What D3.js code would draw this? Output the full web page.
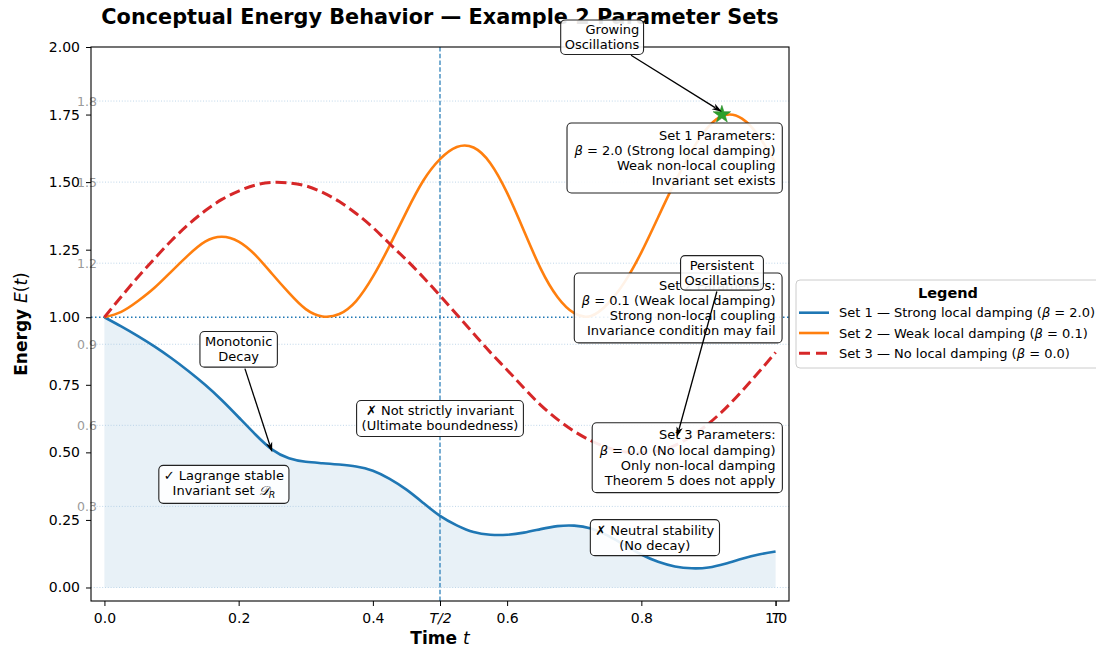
<!DOCTYPE html>
<html>
<head>
<meta charset="utf-8">
<script src="https://cdn.jsdelivr.net/npm/d3@7"></script>
<style>
html,body{margin:0;padding:0;background:#fff;}
svg text{font-family:"DejaVu Sans","Liberation Sans",sans-serif;}
</style>
</head>
<body>
<svg id="chart" width="1096" height="651"></svg>
<script>
// ---------------- DATA ----------------
const times = [0, 0.025, 0.05, 0.075, 0.1, 0.125, 0.15, 0.175, 0.2, 0.225, 0.25, 0.275, 0.3, 0.325, 0.35, 0.375, 0.4, 0.425, 0.45, 0.475, 0.5, 0.525, 0.55, 0.575, 0.6, 0.625, 0.65, 0.675, 0.7, 0.725, 0.75, 0.775, 0.8, 0.825, 0.85, 0.875, 0.9, 0.925, 0.95, 0.975, 1.0];
const set1Energy = [1.000, 0.966, 0.930, 0.891, 0.848, 0.801, 0.750, 0.693, 0.630, 0.566, 0.510, 0.478, 0.465, 0.460, 0.455, 0.448, 0.432, 0.402, 0.362, 0.313, 0.265, 0.230, 0.205, 0.195, 0.195, 0.203, 0.216, 0.227, 0.229, 0.218, 0.192, 0.157, 0.122, 0.095, 0.078, 0.071, 0.074, 0.088, 0.106, 0.122, 0.133];
const set2Energy = [1.000, 1.020, 1.060, 1.110, 1.170, 1.230, 1.280, 1.298, 1.280, 1.230, 1.160, 1.090, 1.030, 1.003, 1.012, 1.060, 1.150, 1.265, 1.390, 1.505, 1.585, 1.630, 1.628, 1.570, 1.460, 1.320, 1.180, 1.075, 1.015, 1.005, 1.050, 1.130, 1.240, 1.370, 1.500, 1.615, 1.705, 1.748, 1.735, 1.670, 1.570];
const set3Energy = [1.000, 1.076, 1.149, 1.218, 1.284, 1.343, 1.394, 1.436, 1.467, 1.489, 1.499, 1.497, 1.486, 1.462, 1.428, 1.384, 1.332, 1.272, 1.212, 1.148, 1.080, 1.010, 0.940, 0.870, 0.805, 0.738, 0.675, 0.622, 0.578, 0.543, 0.517, 0.502, 0.498, 0.505, 0.526, 0.560, 0.606, 0.662, 0.727, 0.797, 0.870];
const seriesLabels = ["Set 1 — Strong local damping (β = 2.0)", "Set 2 — Weak local damping (β = 0.1)", "Set 3 — No local damping (β = 0.0)"];
const xTicks = [0, 0.2, 0.4, 0.6, 0.8, 1.0];
const xSpecialTicks = [0.5, 1.0];
const xSpecialLabels = ["T/2", "T"];
const yTicks = [0, 0.25, 0.5, 0.75, 1.0, 1.25, 1.5, 1.75, 2.0];
const gridLevels = [0, 0.3, 0.6, 0.9, 1.2, 1.5, 1.8];
const gridLabels = ["", "0.3", "0.6", "0.9", "1.2", "1.5", "1.8"];
const referenceEnergy = 1.0;
const halfPeriod = 0.5;
const peakTime = 0.92, peakEnergy = 1.75;

// ---------------- SETUP ----------------
const svg = d3.select("#chart");
const x = d3.scaleLinear().domain([-0.02, 1.02]).range([91, 789]);
const y = d3.scaleLinear().domain([-0.05, 2.0]).range([601, 47]);
const [X0, X1] = x.range();
const [Y0, Y1] = y.range(); // Y0 bottom, Y1 top
const colors = ["#1f77b4", "#ff7f0e", "#d62728"];
const series = [set1Energy, set2Energy, set3Energy].map((vals) =>
  times.map((t, j) => ({t, e: vals[j]})));
const curve = d3.curveNatural;

// grid (dotted light lines with grey labels)
const gridG = svg.append("g");
gridG.selectAll("line").data(gridLevels).join("line")
  .attr("x1", X0).attr("x2", X1)
  .attr("y1", d => y(d)).attr("y2", d => y(d))
  .attr("stroke", "#aecbe3").attr("stroke-width", 0.8).attr("stroke-dasharray", "1,1.8");

// fill under set 1
svg.append("path").datum(series[0])
  .attr("d", d3.area().x(d => x(d.t)).y0(y(0)).y1(d => y(d.e)).curve(curve))
  .attr("fill", "#1f77b4").attr("fill-opacity", 0.1);

gridG.raise();

// reference lines
svg.append("line").attr("x1", X0).attr("x2", X1).attr("y1", y(referenceEnergy)).attr("y2", y(referenceEnergy))
  .attr("stroke", "#1f77b4").attr("stroke-width", 1.5).attr("stroke-dasharray", "1.5,2.5");
svg.append("line").attr("x1", x(halfPeriod)).attr("x2", x(halfPeriod)).attr("y1", Y0).attr("y2", Y1)
  .attr("stroke", "#1f77b4").attr("stroke-width", 1.2).attr("stroke-dasharray", "4.5,2.2");

// series lines
const lineGen = d3.line().x(d => x(d.t)).y(d => y(d.e)).curve(curve);
series.forEach((s, i) => {
  svg.append("path").datum(s).attr("d", lineGen)
    .attr("fill", "none").attr("stroke", colors[i])
    .attr("stroke-width", i === 2 ? 3 : 2.6)
    .attr("stroke-dasharray", i === 2 ? "11,5" : null)
    .attr("stroke-linejoin", "round");
});

// grey grid labels
gridG.selectAll("text").data(gridLevels.filter((d, i) => gridLabels[i] !== "")).join("text")
  .attr("x", 97).attr("y", d => y(d) + 4.5)
  .attr("text-anchor", "end").attr("font-size", 12.5).attr("fill", "#9a9a9a")
  .text(d => gridLabels[gridLevels.indexOf(d)]);

// star marker
svg.append("path")
  .attr("d", d3.symbol().type(d3.symbolStar).size(95)())
  .attr("transform", `translate(${x(peakTime)},${y(peakEnergy)})`)
  .attr("fill", "#2ca02c").attr("stroke", "#2a8a2a").attr("stroke-width", 0.6);

// frame
svg.append("rect").attr("x", X0).attr("y", Y1).attr("width", X1 - X0).attr("height", Y0 - Y1)
  .attr("fill", "none").attr("stroke", "#000").attr("stroke-width", 1.1);

// axes
const yAxis = svg.append("g").attr("transform", `translate(${X0},0)`)
  .call(d3.axisLeft(y).tickValues(yTicks).tickFormat(d3.format(".2f")).tickSize(5).tickPadding(6));
const xAxis = svg.append("g").attr("transform", `translate(0,${Y0})`)
  .call(d3.axisBottom(x).tickValues(xTicks).tickFormat(d3.format(".1f")).tickSize(5).tickPadding(7));
const xAxis2 = svg.append("g").attr("transform", `translate(0,${Y0})`)
  .call(d3.axisBottom(x).tickValues(xSpecialTicks).tickFormat((d, i) => xSpecialLabels[i]).tickSize(5).tickPadding(7));
[yAxis, xAxis, xAxis2].forEach(a => {
  a.select(".domain").remove();
  a.selectAll("text").attr("font-size", 14).attr("fill", "#000").attr("font-family", "DejaVu Sans");
  a.selectAll("line").attr("stroke", "#000").attr("stroke-width", 1);
});
xAxis2.selectAll("text").attr("font-style", "italic");

// title
svg.append("text").attr("x", (X0 + X1) / 2).attr("y", 24).attr("text-anchor", "middle")
  .attr("font-size", 20.8).attr("font-weight", "bold")
  .text("Conceptual Energy Behavior — Example 2 Parameter Sets");

// axis labels
const xl = svg.append("text").attr("x", (X0 + X1) / 2).attr("y", 643.5).attr("text-anchor", "middle")
  .attr("font-size", 17);
xl.append("tspan").attr("font-weight", "bold").text("Time ");
xl.append("tspan").attr("font-style", "italic").text("t");

const yl = svg.append("text").attr("transform", `translate(26.5,${(Y0 + Y1) / 2}) rotate(-90)`)
  .attr("text-anchor", "middle").attr("font-size", 17);
yl.append("tspan").attr("font-weight", "bold").text("Energy ");
yl.append("tspan").attr("font-style", "italic").text("E");
yl.append("tspan").text("(");
yl.append("tspan").attr("font-style", "italic").text("t");
yl.append("tspan").text(")");

// rich text helper: β italic; special "𝒟_R"
function addRich(sel, str) {
  const parts = str.split(/(β|𝒟_R)/);
  parts.forEach(p => {
    if (p === "") return;
    if (p === "β") sel.append("tspan").attr("font-style", "italic").text("β");
    else if (p === "𝒟_R") {
      sel.append("tspan").attr("font-style", "italic").text("𝒟");
      sel.append("tspan").attr("font-style", "italic").attr("font-size", "0.72em").attr("dy", 3).text("R");
    } else sel.append("tspan").text(p);
  });
}

// legend
const lg = svg.append("g");
lg.append("rect").attr("x", 796).attr("y", 280).attr("width", 315).attr("height", 88).attr("rx", 4)
  .attr("fill", "#fff").attr("fill-opacity", 0.9).attr("stroke", "#cccccc").attr("stroke-width", 1);
lg.append("text").attr("x", 948).attr("y", 298).attr("text-anchor", "middle")
  .attr("font-size", 14.5).attr("font-weight", "bold").text("Legend");
seriesLabels.forEach((lab, i) => {
  const cy = 312.7 + i * 20.3;
  lg.append("line").attr("x1", 799).attr("x2", 829).attr("y1", cy).attr("y2", cy)
    .attr("stroke", colors[i]).attr("stroke-width", i === 2 ? 3 : 2.6)
    .attr("stroke-dasharray", i === 2 ? "11,6" : null);
  const t = lg.append("text").attr("x", 839).attr("y", cy + 4.7).attr("font-size", 13);
  addRich(t, lab);
});

// annotation boxes
const boxLayer = svg.append("g");
const arrowLayer = svg.append("g");
function textBox(cfg) {
  const fs = cfg.fs || 13, lh = cfg.lh || 15.3;
  const g = boxLayer.append("g");
  const rect = g.append("rect");
  const txt = g.append("text").attr("font-size", fs).attr("text-anchor", cfg.anchor);
  const n = cfg.lines.length;
  const px = x(cfg.tx), py = y(cfg.ty);
  cfg.lines.forEach((ln, i) => {
    const ts = txt.append("tspan").attr("x", px).attr("y", py + (i - (n - 1) / 2) * lh + 0.36 * fs);
    addRich(ts, ln);
  });
  const bb = txt.node().getBBox();
  const padX = cfg.padX != null ? cfg.padX : 6.5, padY = cfg.padY != null ? cfg.padY : 4.5;
  const r = {x0: bb.x - padX, y0: bb.y - padY, x1: bb.x + bb.width + padX, y1: bb.y + bb.height + padY};
  rect.attr("x", r.x0).attr("y", r.y0).attr("width", r.x1 - r.x0).attr("height", r.y1 - r.y0)
    .attr("rx", 4.5).attr("fill", "#fff").attr("fill-opacity", 0.9)
    .attr("stroke", "#222").attr("stroke-width", 1.1);
  if (cfg.target) {
    const cx = (r.x0 + r.x1) / 2, cy = (r.y0 + r.y1) / 2;
    const tx = x(cfg.target[0]), ty = y(cfg.target[1]);
    const dx = tx - cx, dy = ty - cy;
    const s = Math.min(Math.abs(dx) > 1e-6 ? ((r.x1 - r.x0) / 2) / Math.abs(dx) : Infinity,
                       Math.abs(dy) > 1e-6 ? ((r.y1 - r.y0) / 2) / Math.abs(dy) : Infinity);
    const len = Math.hypot(dx, dy);
    const ux = dx / len, uy = dy / len;
    const sx = cx + s * dx + ux * 1.5, sy = cy + s * dy + uy * 1.5;
    const L = 10, Wd = 3.2;
    const bx = tx - ux * L, by = ty - uy * L;
    arrowLayer.append("line").attr("x1", sx).attr("y1", sy).attr("x2", bx + ux * 2).attr("y2", by + uy * 2)
      .attr("stroke", "#000").attr("stroke-width", 1.3);
    arrowLayer.append("path")
      .attr("d", `M${tx},${ty} L${bx - uy * Wd},${by + ux * Wd} L${bx + ux * 2.5},${by + uy * 2.5} L${bx + uy * Wd},${by - ux * Wd} Z`)
      .attr("fill", "#000");
  }
}

textBox({lines: ["Set 1 Parameters:", "β = 2.0 (Strong local damping)", "Weak non-local coupling", "Invariant set exists"],
  tx: 1.0, ty: 1.59, anchor: "end"});
textBox({lines: ["Set 2 Parameters:", "β = 0.1 (Weak local damping)", "Strong non-local coupling", "Invariance condition may fail"],
  tx: 1.0, ty: 1.035, anchor: "end"});
textBox({lines: ["Set 3 Parameters:", "β = 0.0 (No local damping)", "Only non-local damping", "Theorem 5 does not apply"],
  tx: 1.0, ty: 0.481, anchor: "end"});
textBox({lines: ["Growing", "Oscillations"], tx: 0.797, ty: 2.037, anchor: "end", padX: 4, padY: 2.5, lh: 14.5,
  target: [peakTime, peakEnergy + 0.01]});
textBox({lines: ["Persistent", "Oscillations"], tx: 0.92, ty: 1.165, anchor: "middle", padX: 4, padY: 2.5, lh: 14.5,
  target: [0.853, 0.557]});
textBox({lines: ["✗ Neutral stability", "(No decay)"], tx: 0.82, ty: 0.185, anchor: "middle", padX: 5, padY: 3, lh: 15});
textBox({lines: ["✗ Not strictly invariant", "(Ultimate boundedness)"], tx: 0.5, ty: 0.626, anchor: "middle", padX: 5, padY: 3, lh: 15});
textBox({lines: ["✓ Lagrange stable", "Invariant set 𝒟_R"], tx: 0.178, ty: 0.386, anchor: "middle", padX: 5, padY: 3, lh: 15});
textBox({lines: ["Monotonic", "Decay"], tx: 0.2, ty: 0.882, anchor: "middle", padX: 5, padY: 3, lh: 14.7,
  target: [0.25, 0.5]});
</script>
</body>
</html>
